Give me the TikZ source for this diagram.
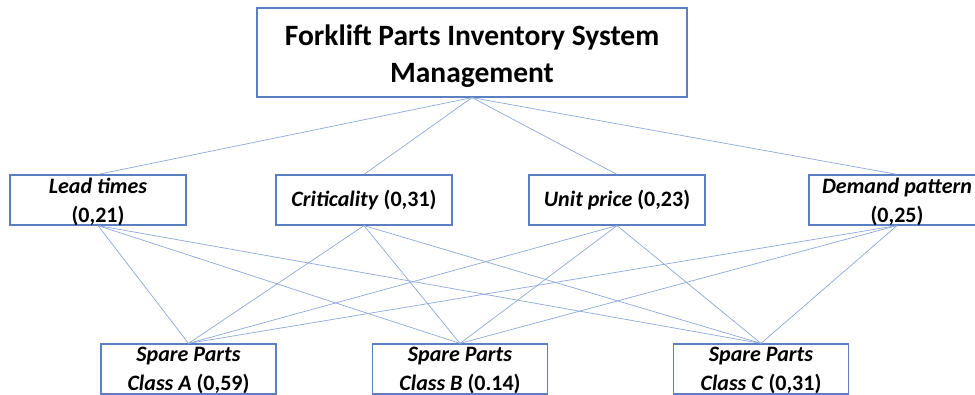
\documentclass[tikz,border=0pt]{standalone}
\usepackage{fontspec}
\setmainfont{Carlito}
\begin{document}
\begin{tikzpicture}[x=1pt,y=-1pt,
  box/.style={draw=boxblue,line width=1.2pt,fill=white,inner sep=0pt},
  lvl/.style={box,minimum width=176pt,minimum height=50pt},
  txt/.style={align=center,inner sep=0pt,font=\fontsize{22}{29}\selectfont\bfseries},
  conn/.style={draw=lineblue,line width=0.7pt}]
\definecolor{boxblue}{HTML}{5B7FC0}
\definecolor{lineblue}{HTML}{8EA9DB}
\clip (0,0) rectangle (975,395);
\useasboundingbox (0,0) rectangle (975,395);
\fill[white] (0,0) rectangle (975,395);
% boxes
\node[box,minimum width=430pt,minimum height=89pt] (top) at (472,52.5) {};
\node[lvl] (lead) at (98,200) {};
\node[lvl] (crit) at (364,200) {};
\node[lvl] (unit) at (617,200) {};
\node[lvl] (dem) at (897,200) {};
\node[lvl,minimum width=175pt] (ca) at (188.5,369) {};
\node[lvl,minimum width=175pt] (cb) at (460,369) {};
\node[lvl,minimum width=175pt] (cc) at (761,369) {};
% connectors
\foreach \n in {lead,crit,unit,dem}{\draw[conn] (top.south) -- (\n.north);}
\foreach \n in {lead,crit,unit,dem}{\foreach \m in {ca,cb,cc}{\draw[conn] (\n.south) -- (\m.north);}}
% texts
\node[txt,font=\fontsize{29.5}{37}\selectfont\bfseries] (topt) at (472,56.5) {Forklift Parts Inventory System\\Management};
\node[txt] (leadt) at (98,202) {\textit{Lead times}\\(0,21)};
\node[txt] (critt) at (364,200) {\textit{Criticality} (0,31)};
\node[txt] (unitt) at (617,200) {\textit{Unit price} (0,23)};
\node[txt] (demt) at (897,202) {\textit{Demand pattern}\\(0,25)};
\node[txt] (cat) at (188.5,370.5) {\textit{Spare Parts}\\\textit{Class A} (0,59)};
\node[txt] (cbt) at (460,370.5) {\textit{Spare Parts}\\\textit{Class B} (0.14)};
\node[txt] (cct) at (761,370.5) {\textit{Spare Parts}\\\textit{Class C} (0,31)};
\end{tikzpicture}
\end{document}
